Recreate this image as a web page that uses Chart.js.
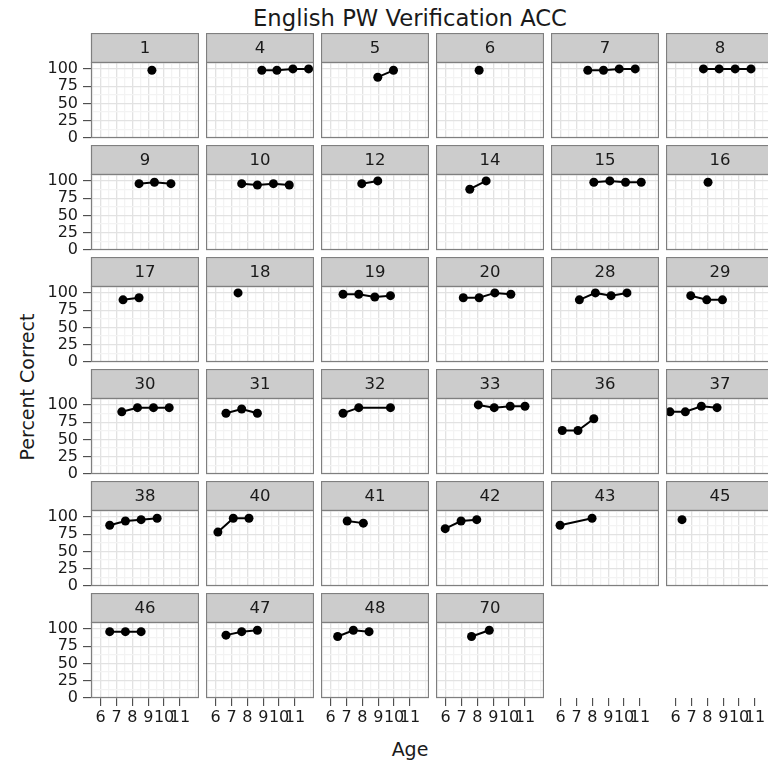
<!DOCTYPE html>
<html>
<head>
<meta charset="utf-8">
<script src="https://cdn.jsdelivr.net/npm/chart.js@4.4.0/dist/chart.umd.min.js"></script>
<style>
  html, body { margin: 0; padding: 0; background: #fff; }
  body { width: 768px; height: 765px; overflow: hidden; position: relative; font-family: "DejaVu Sans", sans-serif; color: #1a1a1a; }
  canvas { position: absolute; }
  .lbl { position: absolute; white-space: nowrap; }
</style>
</head>
<body>
<div class="lbl" style="left:160px;width:500px;top:7px;text-align:center;font-size:22.7px;line-height:23px;">English PW Verification ACC</div>
<div class="lbl" style="left:27px;top:387px;font-size:19px;line-height:19px;transform:translate(-50%,-50%) rotate(-90deg);">Percent Correct</div>
<div class="lbl" style="left:310px;width:200px;top:740px;text-align:center;font-size:19px;line-height:19px;">Age</div>
<script>
// one facet per subject
const subjects = ["1", "4", "5", "6", "7", "8", "9", "10", "12", "14", "15", "16",
  "17", "18", "19", "20", "28", "29", "30", "31", "32", "33", "36", "37",
  "38", "40", "41", "42", "43", "45", "46", "47", "48", "70"];

const ages = [
  [9.23], [8.91, 9.86, 10.87, 11.86], [8.97, 9.96], [8.11], [7.71, 8.70, 9.69, 10.70], [7.75, 8.74, 9.75, 10.75],
  [8.42, 9.39, 10.43], [7.64, 8.63, 9.64, 10.64], [7.96, 8.97], [7.52, 8.55], [8.09, 9.10, 10.09, 11.08], [8.04],
  [7.41, 8.42], [7.41], [6.78, 7.77, 8.78, 9.77], [7.11, 8.11, 9.10, 10.11], [7.18, 8.19, 9.18, 10.18], [6.95, 7.96, 8.95],
  [7.33, 8.32, 9.33, 10.32], [6.65, 7.64, 8.63], [6.78, 7.77, 9.77], [8.06, 9.06, 10.07, 11.00], [6.10, 7.09, 8.09], [5.64, 6.61, 7.62, 8.61],
  [6.57, 7.56, 8.55, 9.56], [6.14, 7.11, 8.10], [7.04, 8.06], [5.97, 6.97, 7.96], [5.96, 7.98], [6.40],
  [6.57, 7.56, 8.55], [6.65, 7.64, 8.63], [6.44, 7.43, 8.42], [7.63, 8.75]
];

const scores = [
  [98], [98, 98, 100, 100], [88, 98], [98], [98, 98, 100, 100], [100, 100, 100, 100],
  [96, 98, 96], [96, 94, 96, 94], [96, 100], [88, 100], [98, 100, 98, 98], [98],
  [90, 93], [100], [98, 98, 94, 96], [93, 93, 100, 98], [90, 100, 96, 100], [96, 90, 90],
  [90, 96, 96, 96], [88, 94, 88], [88, 96, 96], [100, 96, 98, 98], [63, 63, 80], [90, 90, 98, 96],
  [88, 94, 96, 98], [78, 98, 98], [94, 91], [83, 94, 96], [88, 98], [96],
  [96, 96, 96], [91, 96, 98], [89, 98, 96], [89, 98]
];

const ageTicks = [6, 7, 8, 9, 10, 11];
const ageGrid = [5.5, 6, 6.5, 7, 7.5, 8, 8.5, 9, 9.5, 10, 10.5, 11, 11.5, 12];
const scoreTicks = [0, 25, 50, 75, 100];
const scoreGrid = [0, 12.5, 25, 37.5, 50, 62.5, 75, 87.5, 100];

const COLS = 6, ROWS = 6;
const PANEL_W = 108, PLOT_H = 76, STRIP_H = 29;
const Y_AXIS_W = 60, X_AXIS_H = 40, ROW_GAP = 7;
const LEFT0 = 91, TOP0 = 33, COL_STEP = 115, ROW_STEP = 112;

const FRAME = "#7f7f7f", STRIP_FILL = "#cccccc", INK = "#1a1a1a";
const GRID_MAJOR = "#e2e2e2", GRID_MINOR = "#f3f3f3";

Chart.defaults.font.family = '"DejaVu Sans", sans-serif';
Chart.defaults.color = INK;

const facetPlugin = {
  id: "facet",
  beforeDraw(chart, args, opts) {
    if (opts.label == null) return;
    const a = chart.chartArea, ctx = chart.ctx;
    ctx.save();
    ctx.fillStyle = "#fff";
    ctx.fillRect(a.left, a.top, a.right - a.left, a.bottom - a.top);
    ctx.fillStyle = STRIP_FILL;
    ctx.fillRect(a.left, a.top - STRIP_H, a.right - a.left, STRIP_H);
    ctx.strokeStyle = FRAME;
    ctx.lineWidth = 1.2;
    ctx.strokeRect(a.left + 0.5, a.top - STRIP_H + 0.5, a.right - a.left - 1, STRIP_H);
    ctx.fillStyle = INK;
    ctx.font = '16.5px "DejaVu Sans", sans-serif';
    ctx.textAlign = "center";
    ctx.textBaseline = "middle";
    ctx.fillText(opts.label, (a.left + a.right) / 2, a.top - STRIP_H / 2 + 1);
    ctx.restore();
  },
  afterDraw(chart, args, opts) {
    if (opts.label == null) return;
    const a = chart.chartArea, ctx = chart.ctx;
    ctx.save();
    ctx.strokeStyle = FRAME;
    ctx.lineWidth = 1.2;
    ctx.strokeRect(a.left + 0.5, a.top + 0.5, a.right - a.left - 1, a.bottom - a.top - 1);
    ctx.restore();
  }
};

const isMajorX = v => ageTicks.includes(v);
const isMajorY = v => scoreTicks.includes(v);

function buildPanel(r, c, label, xs, ys) {
  const showY = c === 0 && label != null;
  const showX = r === ROWS - 1;
  const empty = label == null;

  const canvas = document.createElement("canvas");
  canvas.width = PANEL_W + (showY ? Y_AXIS_W : 0);
  canvas.height = STRIP_H + PLOT_H + (showX ? X_AXIS_H : ROW_GAP);
  canvas.style.left = (LEFT0 + COL_STEP * c - (showY ? Y_AXIS_W : 0)) + "px";
  canvas.style.top = (TOP0 + ROW_STEP * r) + "px";
  document.body.appendChild(canvas);

  const points = empty ? [] : xs.map((x, k) => ({ x: x, y: ys[k] }));

  new Chart(canvas, {
    type: "scatter",
    data: {
      datasets: empty ? [] : [{
        data: points,
        showLine: true,
        borderColor: "#000",
        borderWidth: 2,
        backgroundColor: "#000",
        pointBackgroundColor: "#000",
        pointBorderWidth: 0,
        pointRadius: 4.5,
        pointHoverRadius: 4.5,
        clip: false
      }]
    },
    options: {
      responsive: false,
      animation: false,
      events: [],
      layout: { autoPadding: false, padding: { top: STRIP_H, left: 0, right: 0, bottom: showX ? 0 : ROW_GAP } },
      plugins: { legend: { display: false }, tooltip: { enabled: false }, facet: { label: label } },
      scales: {
        x: {
          type: "linear",
          min: 5.39,
          max: 12.2,
          afterBuildTicks: s => { s.ticks = ageGrid.map(v => ({ value: v })); },
          afterFit: s => { s.height = showX ? X_AXIS_H : 0; s.paddingLeft = 0; s.paddingRight = 0; },
          ticks: {
            display: showX,
            autoSkip: false,
            maxRotation: 0,
            minRotation: 0,
            padding: 2,
            color: INK,
            font: { size: 16 },
            callback: v => (isMajorX(v) ? String(v) : "")
          },
          grid: {
            drawOnChartArea: !empty,
            drawTicks: showX,
            tickLength: 8,
            tickWidth: 1,
            tickColor: ctx => (ctx.tick && isMajorX(ctx.tick.value) ? "#333" : "rgba(0,0,0,0)"),
            color: ctx => (ctx.tick && isMajorX(ctx.tick.value) ? GRID_MAJOR : GRID_MINOR),
            lineWidth: 1.3
          },
          border: { display: false }
        },
        y: {
          display: !empty,
          min: 0,
          max: 110,
          afterBuildTicks: s => { s.ticks = scoreGrid.map(v => ({ value: v })); },
          afterFit: s => { s.width = showY ? Y_AXIS_W : 0; s.paddingTop = 0; s.paddingBottom = 0; },
          ticks: {
            display: showY,
            autoSkip: false,
            padding: 5,
            color: INK,
            font: { size: 16 },
            callback: v => (isMajorY(v) ? String(v) : "")
          },
          grid: {
            drawTicks: showY,
            tickLength: 8,
            tickWidth: 1,
            tickColor: ctx => (ctx.tick && isMajorY(ctx.tick.value) ? "#333" : "rgba(0,0,0,0)"),
            color: ctx => (ctx.tick && isMajorY(ctx.tick.value) ? GRID_MAJOR : GRID_MINOR),
            lineWidth: 1.3
          },
          border: { display: false }
        }
      }
    },
    plugins: [facetPlugin]
  });
}

for (let i = 0; i < COLS * ROWS; i++) {
  const r = Math.floor(i / COLS), c = i % COLS;
  if (i < subjects.length) buildPanel(r, c, subjects[i], ages[i], scores[i]);
  else buildPanel(r, c, null, [], []);
}
</script>
</body>
</html>
